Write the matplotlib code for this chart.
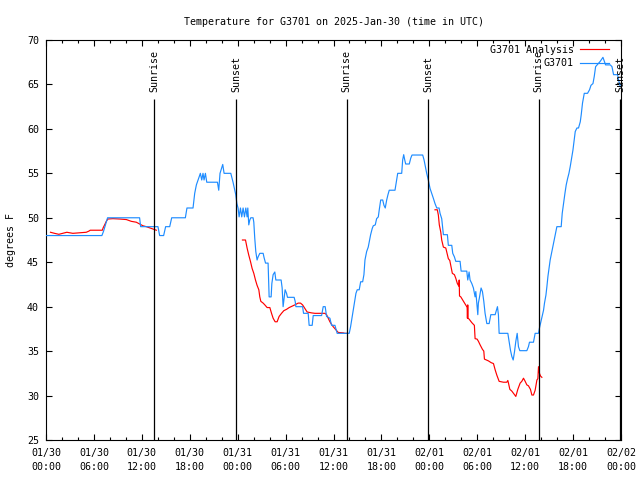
import matplotlib
matplotlib.use("Agg")
import matplotlib.pyplot as plt
import numpy as np

plt.rcParams['font.family'] = ['DejaVu Sans Mono', 'DejaVu Sans']
plt.rcParams['font.size'] = 7.2

title = "Temperature for G3701 on 2025-Jan-30 (time in UTC)"

# hours since 2025-01-30 00:00 UTC, degrees F
obs_hours = [0.0, 7.0, 7.21, 7.71, 11.72, 11.85, 14.02, 14.23, 14.73, 14.98, 15.49, 15.74, 17.45, 17.65, 18.41,
             18.50, 18.62, 18.83, 19.04, 19.33, 19.50, 19.66, 19.79, 19.96, 20.13, 21.47, 21.63, 21.79, 22.13,
             22.30, 23.14, 23.42, 23.64, 23.76, 23.90, 24.05, 24.18, 24.35, 24.51, 24.68, 24.85, 25.02, 25.18,
             25.27, 25.39, 25.52, 25.64, 25.93, 26.02, 26.14, 26.27, 26.43, 26.56, 26.77, 27.19, 27.31, 27.49,
             27.81, 27.94, 28.19, 28.28, 28.44, 28.65, 28.78, 29.44, 29.57, 29.69, 29.82, 29.94, 30.12, 30.24,
             31.07, 31.20, 31.29, 32.13, 32.25, 32.83, 32.95, 33.33, 33.46, 34.51, 34.71, 34.96, 35.13, 35.55,
             35.76, 36.18, 36.46, 37.97, 38.14, 38.31, 38.47, 38.64, 38.81, 38.97, 39.22, 39.40, 39.65, 39.81,
             39.94, 40.15, 40.35, 40.48, 40.65, 40.85, 40.98, 41.23, 41.40, 41.61, 41.73, 41.91, 42.16, 42.32,
             42.48, 42.66, 42.82, 42.98, 43.70, 43.91, 44.04, 44.54, 44.66, 44.79, 44.92, 45.04, 45.49, 45.67,
             45.83, 47.17, 47.34, 47.50, 47.67, 47.87, 48.09, 48.30, 48.50, 48.71, 48.93, 49.22, 49.34, 49.55,
             49.76, 50.26, 50.38, 50.81, 50.93, 51.14, 51.31, 51.85, 51.98, 52.69, 52.81, 52.98, 53.10, 53.32,
             53.52, 53.73, 53.82, 53.94, 54.07, 54.14, 54.27, 54.40, 54.48, 54.65, 54.82, 54.98, 55.20, 55.49,
             55.70, 56.24, 56.40, 56.53, 56.65, 56.74, 57.83, 57.99, 58.16, 58.33, 58.50, 58.66, 58.83, 59.00,
             59.16, 59.33, 60.21, 60.41, 60.54, 61.04, 61.25, 61.67, 61.79, 61.97, 62.13, 62.30, 62.42, 62.60,
             62.72, 62.85, 63.01, 63.13, 63.30, 63.47, 63.64, 63.80, 63.97, 64.51, 64.64, 64.80, 64.98, 65.14,
             65.31, 65.48, 65.64, 65.81, 65.98, 66.14, 66.27, 66.48, 66.68, 66.90, 67.02, 67.18, 67.40, 67.81,
             68.06, 68.24, 68.49, 68.65, 68.82, 69.40, 69.62, 69.74, 69.91, 70.07, 70.66, 70.87, 71.07, 71.57,
             71.75, 71.92]
obs_temp = [48.0, 48.0, 48.5, 50.0, 50.0, 49.0, 49.0, 48.0, 48.0, 49.0, 49.0, 50.0, 50.0, 51.1, 51.1,
            51.8, 52.75, 53.7, 54.25, 55.0, 54.25, 55.0, 54.25, 55.0, 54.0, 54.0, 53.1, 55.0, 56.0,
            55.0, 55.0, 54.0, 53.1, 52.6, 51.6, 51.1, 50.1, 51.1, 50.1, 51.1, 50.1, 51.1, 50.1,
            51.1, 49.2, 49.75, 50.0, 50.0, 49.5, 47.7, 46.2, 45.25, 45.6, 46.0, 46.0, 45.5, 44.9,
            44.9, 41.1, 41.1, 42.6, 43.6, 43.9, 43.0, 43.0, 42.1, 40.0, 41.0, 41.9, 41.5, 41.05,
            41.05, 40.6, 40.0, 40.0, 39.25, 39.25, 37.9, 37.9, 39.0, 39.0, 40.0, 40.0, 38.9, 38.7,
            37.9, 37.9, 37.0, 37.0, 37.75, 38.7, 39.6, 40.6, 41.5, 41.9, 41.9, 42.8, 42.8, 43.6,
            45.25, 46.2, 46.7, 47.3, 48.1, 48.8, 49.1, 49.2, 49.9, 50.1, 50.9, 52.0, 52.0, 51.4,
            51.1, 52.0, 52.6, 53.1, 53.1, 54.25, 55.0, 55.0, 56.5, 57.1, 56.5, 56.05, 56.05, 56.7,
            57.06, 57.06, 56.5, 55.75, 55.0, 54.25, 53.3, 52.75, 52.2, 51.6, 51.1, 51.1, 50.5, 49.9,
            48.1, 48.1, 46.9, 46.9, 46.0, 45.6, 45.1, 45.1, 44.0, 44.0, 43.0, 43.9, 43.0, 42.6,
            42.1, 41.1, 41.7, 40.4, 39.1, 40.4, 41.0, 41.7, 42.1, 41.7, 40.6, 39.25, 38.1, 38.1,
            39.1, 39.1, 39.6, 40.0, 39.1, 37.0, 37.0, 36.1, 35.1, 34.4, 34.0, 34.9, 36.1, 37.0,
            35.5, 35.05, 35.05, 35.5, 36.0, 36.0, 37.0, 37.0, 37.6, 38.3, 38.9, 39.6, 40.4, 41.3,
            42.25, 43.4, 44.5, 45.25, 46.0, 46.75, 47.5, 48.25, 49.0, 49.0, 50.5, 51.6, 52.75, 53.7,
            54.4, 55.0, 55.75, 56.7, 57.6, 58.75, 59.7, 60.1, 60.1, 60.8, 61.6, 62.9, 64.0, 64.0,
            64.4, 64.9, 65.1, 65.9, 67.0, 67.6, 67.9, 68.05, 67.6, 67.2, 67.2, 67.0, 66.1, 66.1,
            65.3, 64.75]

nan = float('nan')
ana_hours = [0.56, 1.07, 1.61, 2.11, 2.61, 3.36, 5.04, 5.37, 5.54, 7.05, 7.17, 7.34, 7.55, 7.75, 8.38,
             9.22, 10.06, 10.68, 11.31, 11.72, 12.14, 12.56, 12.98, 13.39, 13.82, 14.0,
             24.60, 24.98, 25.18, 25.39, 25.61, 25.81, 26.02, 26.23, 26.43, 26.65, 26.77, 26.90, 27.19,
             27.40, 27.69, 28.03, 28.24, 28.44, 28.69, 28.94, 29.19, 29.49, 29.78, 30.12, 30.45, 30.87,
             31.16, 31.57, 31.87, 32.13, 32.41, 32.70, 33.25, 33.67, 34.92, 35.13, 35.34, 35.55, 35.76,
             35.96, 36.30, 36.59, 37.22, 37.43, 37.72, 38.0,
             48.71, 49.00, 49.13, 49.25, 49.43, 49.55, 49.76, 50.06, 50.22, 50.38, 50.56, 50.72, 50.88,
             51.14, 51.31, 51.51, 51.70, 51.74, 51.78, 51.94, 52.14, 52.48, 52.69, 52.73, 52.77, 52.81,
             52.85, 52.98, 53.32, 53.64, 53.73, 53.98, 54.15, 54.36, 54.65, 54.82, 54.90, 55.40, 55.74,
             56.03, 56.24, 56.45, 56.74, 57.28, 57.70, 57.83, 57.91, 58.08, 58.33, 58.58, 58.83, 59.08,
             59.37, 59.58, 59.79, 60.00, 60.21, 60.41, 60.66, 60.84, 61.04, 61.25, 61.47, 61.59, 61.67,
             61.79, 61.92, 62.09]
ana_temp = [48.37, 48.25, 48.14, 48.25, 48.37, 48.25, 48.37, 48.5, 48.6, 48.6, 48.9, 49.2, 49.6, 49.86, 49.9,
            49.86, 49.8, 49.6, 49.5, 49.3, 49.1, 49.0, 48.87, 48.75, 48.6, nan,
            47.5, 47.5, 46.6, 45.8, 45.06, 44.3, 43.75, 43.0, 42.4, 41.9, 41.1, 40.6, 40.4,
            40.2, 39.9, 39.9, 39.25, 38.7, 38.3, 38.3, 38.9, 39.25, 39.55, 39.7, 39.9, 40.07,
            40.2, 40.4, 40.4, 40.2, 39.8, 39.4, 39.3, 39.25, 39.25, 39.1, 38.7, 38.3, 38.0,
            37.75, 37.4, 37.1, 37.05, 37.0, 37.0, nan,
            50.9, 50.9, 50.3, 49.2, 48.4, 47.5, 46.7, 46.6, 46.0, 45.4, 45.2, 44.5, 43.75,
            43.6, 43.2, 42.6, 42.3, 43.0, 41.2, 41.1, 40.8, 40.3, 40.0, 40.0, 38.7, 40.2,
            38.7, 38.6, 38.2, 37.9, 36.4, 36.35, 36.1, 35.7, 35.2, 35.0, 34.1, 33.9, 33.7,
            33.6, 32.9, 32.3, 31.6, 31.5, 31.5, 31.7, 31.4, 30.7, 30.5, 30.2, 29.9, 30.7,
            31.4, 31.6, 31.95, 31.6, 31.2, 31.1, 30.7, 30.06, 30.06, 30.6, 31.75, 31.9, 33.25,
            32.5, 32.2, 32.05]

sunrise_hours = [13.52, 37.64, 61.67]
sunset_hours = [23.82, 47.87, 71.92]

tick_hours = [0, 6, 12, 18, 24, 30, 36, 42, 48, 54, 60, 66, 72]
tick_labels = ["01/30\n00:00", "01/30\n06:00", "01/30\n12:00", "01/30\n18:00",
               "01/31\n00:00", "01/31\n06:00", "01/31\n12:00", "01/31\n18:00",
               "02/01\n00:00", "02/01\n06:00", "02/01\n12:00", "02/01\n18:00",
               "02/02\n00:00"]

fig = plt.figure(figsize=(6.4, 4.8), dpi=100)
ax = fig.add_axes([46 / 640, 40 / 480, 575 / 640, 400 / 480])

ax.plot(ana_hours, ana_temp, color='#ff0000', lw=0.85, label='G3701 Analysis', zorder=2)
ax.plot(obs_hours, obs_temp, color='#1e8cff', lw=0.85, label='G3701', zorder=3)

# sun lines
ax.vlines(sunrise_hours + sunset_hours, 25, 63.4, color='black', lw=0.9, zorder=4)
for h in sunrise_hours:
    ax.text(h, 64.1, "Sunrise", rotation=90, ha='center', va='bottom')
for h in sunset_hours:
    ax.text(h, 64.1, "Sunset", rotation=90, ha='center', va='bottom')

ax.set_xlim(0, 72)
ax.set_ylim(25, 70)
ax.set_xticks(tick_hours)
ax.set_xticklabels(tick_labels, linespacing=1.5)
ax.set_xticks(np.arange(0, 73, 2), minor=True)
ax.set_yticks(np.arange(25, 71, 5))
ax.tick_params(which='both', direction='in', top=True, right=True)
ax.tick_params(which='major', length=4.5, width=0.8)
ax.tick_params(which='minor', length=2.5, width=0.8)
ax.tick_params(axis='x', pad=5.5)
ax.tick_params(axis='y', pad=5)
for s in ax.spines.values():
    s.set_linewidth(0.8)

ax.set_title(title, pad=11, fontsize=7.2)
ax.set_ylabel("degrees F")
ax.yaxis.set_label_coords(-0.052, 0.5)

ax.legend(loc='upper right', bbox_to_anchor=(0.986, 0.998), borderaxespad=0, frameon=False,
          markerfirst=False, handlelength=2.9, handletextpad=0.6, labelspacing=0.35)

fig.savefig("out.png", dpi=100)
